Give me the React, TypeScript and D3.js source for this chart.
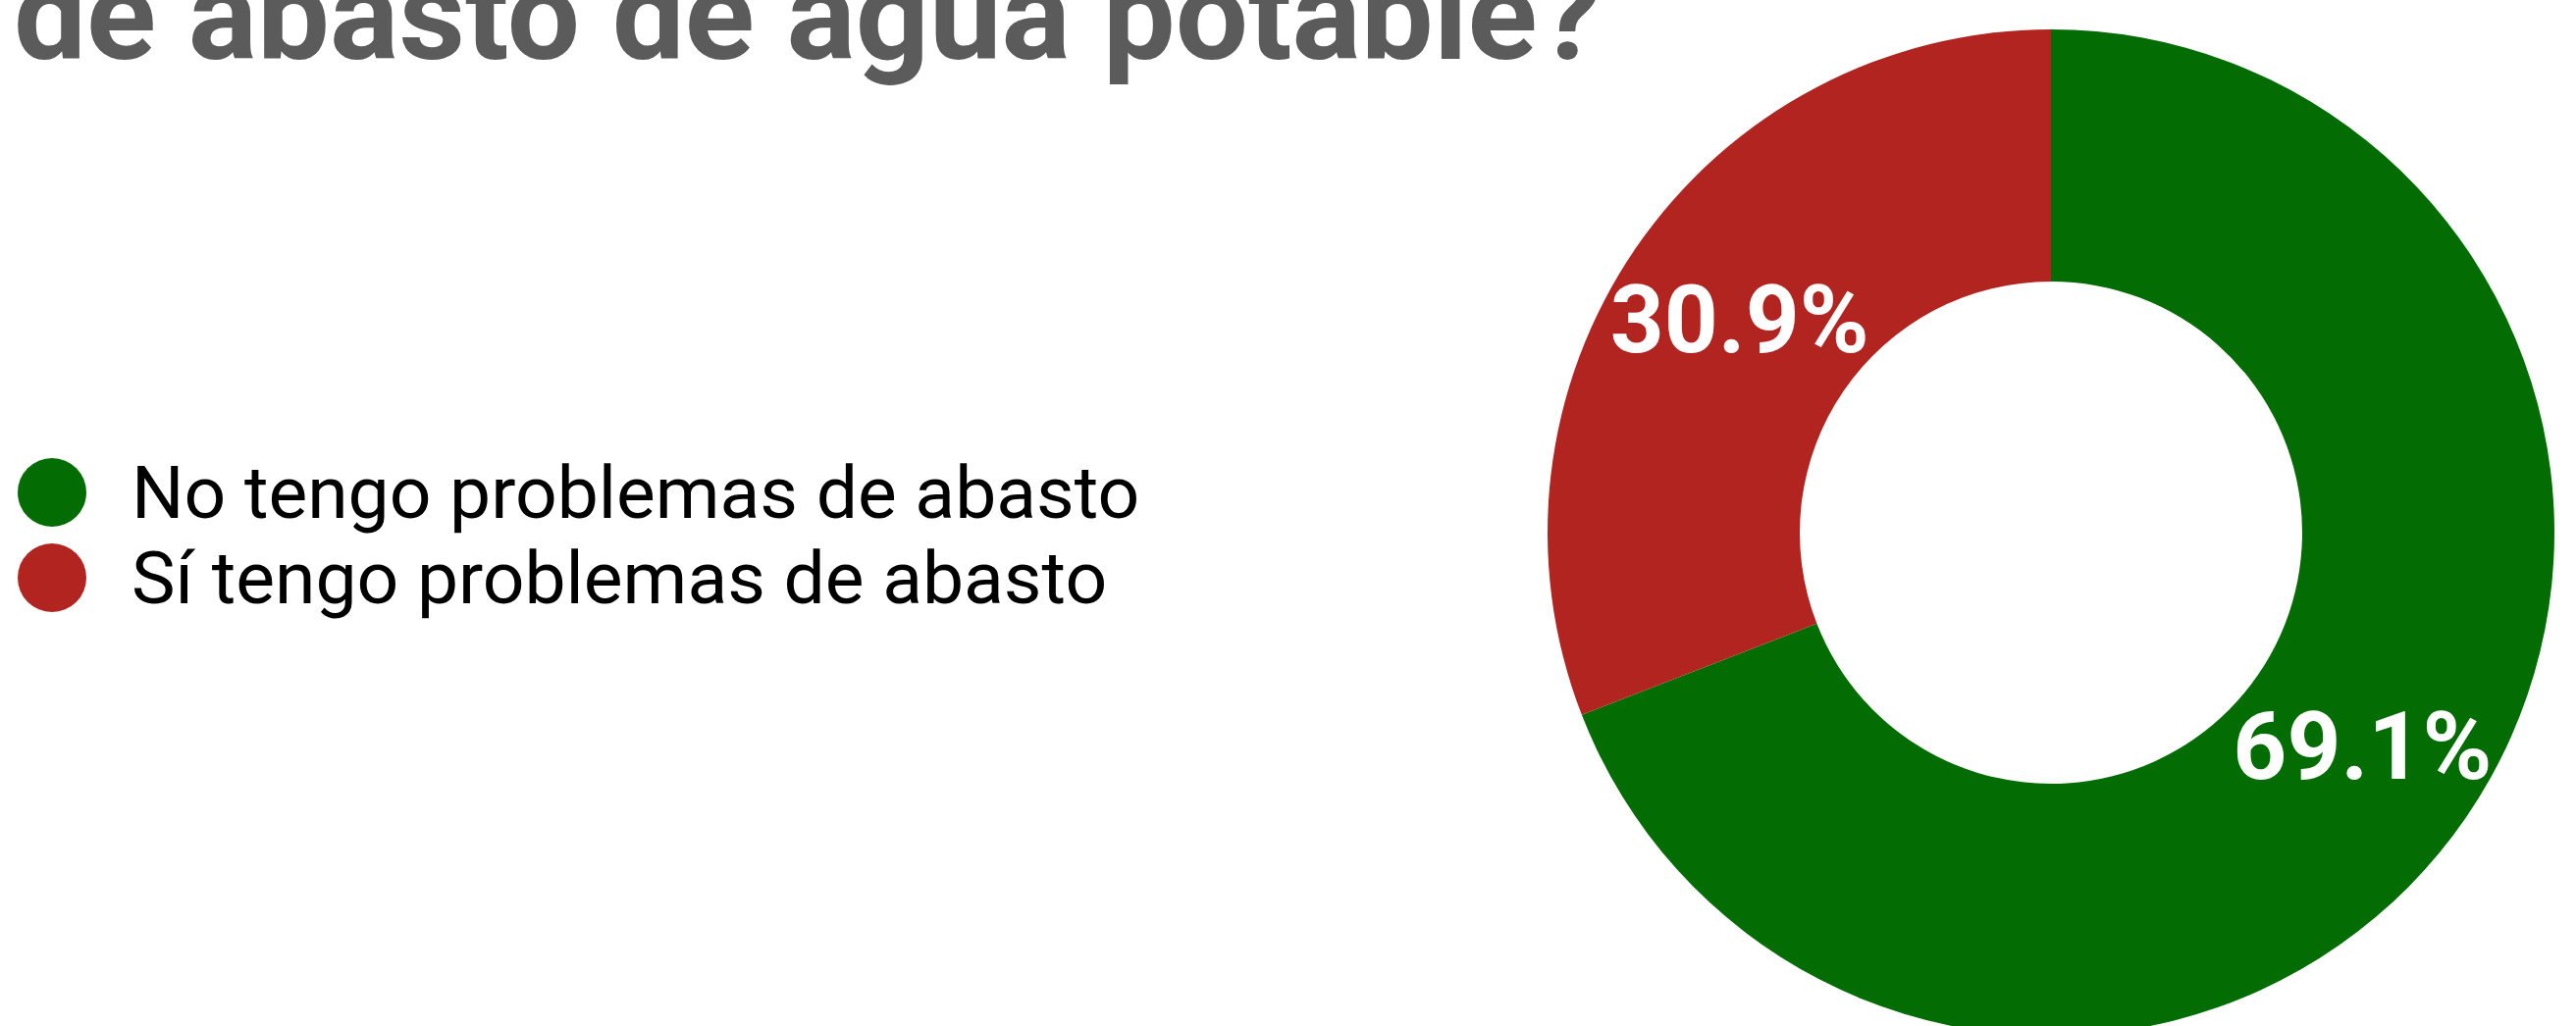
import React from "react";
import * as d3 from "d3";

const categories = ["No tengo problemas de abasto", "Sí tengo problemas de abasto"];
const values = [69.1, 30.9];
const colors = ["#036d03", "#b22420"];
const titleText = "de abasto de agua potable?";

const W = 2625;
const H = 1046;

export default function App() {
  const cx = 2090;
  const cy = 543;
  const outerR = 513;
  const innerR = 256;
  const pie = d3.pie<number>().sort(null).value((d) => d)(values);
  const arc = d3.arc<d3.PieArcDatum<number>>().innerRadius(innerR).outerRadius(outerR);
  const fmt = d3.format(".1f");

  return (
    <svg
      width={W}
      height={H}
      style={{ position: "absolute", left: 0, top: 0, background: "#fff" }}
      fontFamily="Roboto, sans-serif"
    >
      <rect x={0} y={0} width={W} height={H} fill="#fff" />
      <text
        x={14}
        y={60}
        fontSize={130}
        fontWeight={700}
        fill="#5b5b5b"
        textLength={1618}
        lengthAdjust="spacingAndGlyphs"
      >
        {titleText}
      </text>
      <g>
        {categories.map((c, i) => (
          <g key={c} transform={`translate(0, ${502 + i * 87})`}>
            <circle cx={53} cy={0} r={35} fill={colors[i]} />
            <text x={134} y={0} dy="0.35em" fontSize={75} fill="#000">
              {c}
            </text>
          </g>
        ))}
      </g>
      <g transform={`translate(${cx}, ${cy})`}>
        {pie.map((p, i) => (
          <path key={i} d={arc(p) || ""} fill={colors[i]} />
        ))}
        {pie.map((p, i) => {
          const [x, y] = arc.centroid(p);
          return (
            <text
              key={"l" + i}
              x={x}
              y={y}
              dy="0.35em"
              textAnchor="middle"
              fontSize={96}
              fontWeight={700}
              fill="#fff"
            >
              {fmt(values[i]) + "%"}
            </text>
          );
        })}
      </g>
    </svg>
  );
}
